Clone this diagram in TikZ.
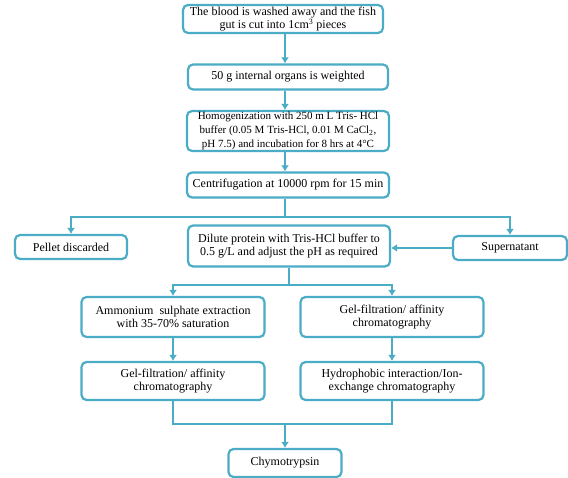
\documentclass[tikz,border=0pt]{standalone}
\usepackage{fontspec}
\setmainfont{Liberation Serif}
\usetikzlibrary{arrows.meta,positioning}
\definecolor{flowblue}{RGB}{75,172,198}

\begin{document}
\begin{tikzpicture}[
  x=1pt, y=-1pt,
  every node/.style={font=\fontsize{12}{13.5}\selectfont},
  stepbox/.style={draw=flowblue, line width=2.2pt, rounded corners=5pt,
                  fill=white, align=center, inner sep=1pt},
  link/.style={draw=flowblue, line width=2.2pt},
  >={Latex[length=6pt,width=8pt]}
]
\useasboundingbox (0,0) rectangle (568,478);

%% ---- main chain (top) ----------------------------------------------
\node[stepbox, minimum width=200pt, minimum height=28pt] (wash) at (283,19)
     {The blood is washed away and the fish\\gut is cut into 1cm\textsuperscript{3} pieces};
\node[stepbox, minimum width=200pt, minimum height=25pt] (weigh) at (288,77)
     {50 g internal organs is weighted};
\node[stepbox, minimum width=202pt, minimum height=36pt,
      font=\fontsize{11}{14}\selectfont] (homog) at (288,131)
     {Homogenization with 250 m L Tris- HCl\\buffer (0.05 M Tris-HCl, 0.01 M CaCl\textsubscript{2},\\pH 7.5) and incubation for 8 hrs at 4°C};
\node[stepbox, minimum width=202pt, minimum height=25pt] (centri) at (288,185)
     {Centrifugation at 10000 rpm for 15 min};

%% ---- split after centrifugation --------------------------------------
\node[stepbox, minimum width=112pt, minimum height=24pt] (pellet) at (71,247)
     {Pellet discarded};
\node[stepbox, minimum width=202pt, minimum height=41pt] (dilute) at (289,246)
     {Dilute protein with Tris-HCl buffer to\\0.5 g/L and adjust the pH as required};
\node[stepbox, minimum width=114pt, minimum height=24pt] (super) at (510,248)
     {Supernatant};

%% ---- two purification routes ----------------------------------------
\node[stepbox, minimum width=183pt, minimum height=40pt] (salt) at (173,317)
     {Ammonium \ sulphate extraction\\with 35-70\% saturation};
\node[stepbox, minimum width=183pt, minimum height=40pt] (gelB) at (392,317)
     {Gel-filtration/ affinity\\chromatography};
\node[stepbox, minimum width=183pt, minimum height=38pt] (gelA) at (173,381)
     {Gel-filtration/ affinity\\chromatography};
\node[stepbox, minimum width=183pt, minimum height=38pt] (hydro) at (392,381)
     {Hydrophobic interaction/Ion-\\exchange chromatography};

\node[stepbox, minimum width=113pt, minimum height=28pt] (chymo) at (285,463)
     {Chymotrypsin};

%% ---- connectors -----------------------------------------------------
\coordinate (split) at (285,217);
\coordinate (fork) at (289,285);
\coordinate (join) at (285,424);

\draw[link,->] (wash.south -| split) -- (weigh.north -| split);
\draw[link,->] (weigh.south -| split) -- (homog.north -| split);
\draw[link,->] (homog.south -| split) -- (centri.north -| split);
\draw[link] (centri.south -| split) -- (split);
\draw[link,->] (split) -| (pellet.north);
\draw[link,->] (split) -| (super.north);
\draw[link,->] (super.west) -- (dilute.east |- super.west);
\draw[link] (dilute.south) -- (fork);
\draw[link,->] (fork) -| (salt.north);
\draw[link,->] (fork) -| (gelB.north);
\draw[link,->] (salt) -- (gelA);
\draw[link,->] (gelB) -- (hydro);
\draw[link] (gelA.south) |- (join);
\draw[link] (hydro.south) |- (join);
\draw[link,->] (join) -- (chymo.north);

\end{tikzpicture}
\end{document}
